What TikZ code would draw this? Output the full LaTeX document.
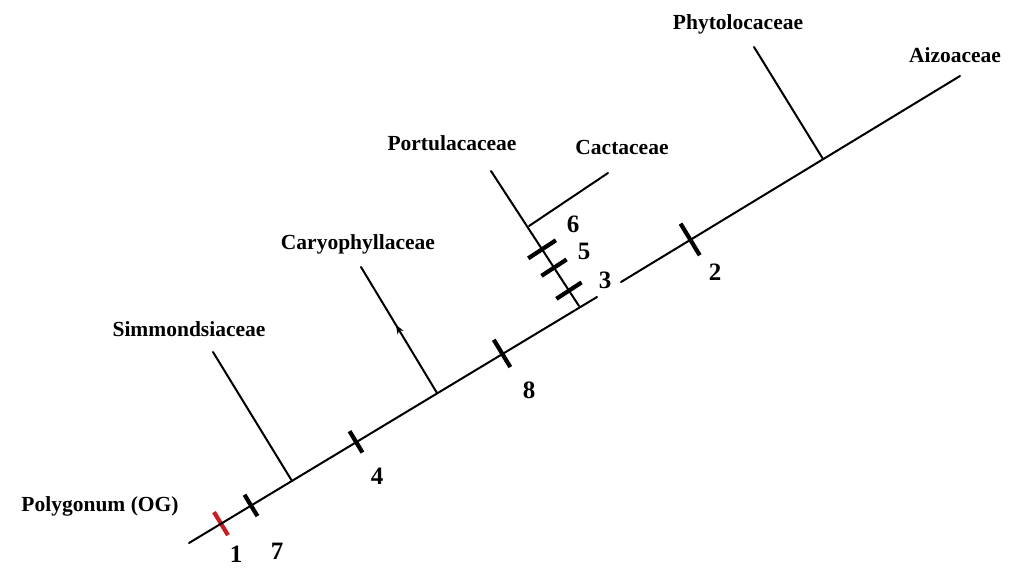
\documentclass[tikz,border=0pt]{standalone}
\usepackage{fontspec}
\setmainfont{Liberation Serif}
\usetikzlibrary{arrows.meta,decorations.markings}
\definecolor{tickred}{RGB}{200,30,35}
\begin{document}
\begin{tikzpicture}[x=1pt,y=-1pt,
  branch/.style={line width=2pt, black, line cap=round},
  tickmark/.style={fill=black, draw=none, inner sep=0pt, minimum width=4.2pt, minimum height=#1, sloped},
  taxon/.style={font=\bfseries\fontsize{21.5}{25}\selectfont, inner sep=0pt},
  num/.style={font=\bfseries\fontsize{25}{29}\selectfont, inner sep=0pt}]
\useasboundingbox (0,0) rectangle (1024,568);
% coordinates of the tree
\coordinate (root) at (189,543);
\coordinate (tip) at (960,76);
\coordinate (gapA) at (597,297);
\coordinate (gapB) at (621,282);
\coordinate (jSim) at (292,481);
\coordinate (simTop) at (213,352);
\coordinate (jCar) at (437,393);
\coordinate (carTop) at (361,267);
\coordinate (jPor) at (579,306);
\coordinate (porTop) at (491,171);
\coordinate (jCac) at (529,226);
\coordinate (cacTop) at (608,173);
\coordinate (jPhy) at (823,159);
\coordinate (phyTop) at (754,47);
% ticks on main line
\path (root) -- (tip)
  node[tickmark=27pt, pos=0.0415, fill=tickred] (t1) {}
  node[tickmark=25pt, pos=0.0804] (t7) {}
  node[tickmark=25pt, pos=0.2166] (t4) {}
  node[tickmark=32pt, pos=0.406] (t8) {}
  node[tickmark=37pt, pos=0.650] (t2) {};
% ticks on Portulacaceae branch
\path (jPor) -- (porTop)
  node[tickmark=30pt, pos=0.114] (t3) {}
  node[tickmark=30pt, pos=0.284] (t5) {}
  node[tickmark=33pt, pos=0.42] (t6) {};
% branches
\draw[branch] (root) -- (gapA);
\draw[branch] (gapB) -- (tip);
\draw[branch] (jSim) -- (simTop);
\draw[branch, postaction={decorate}, decoration={markings, mark=at position 0.54 with {\arrow{Stealth[length=9pt,width=7pt]}}}] (jCar) -- (carTop);
\draw[branch] (jPor) -- (porTop);
\draw[branch] (jCac) -- (cacTop);
\draw[branch] (jPhy) -- (phyTop);
% taxon labels
\node[taxon] (polyg) at (100,506) {Polygonum (OG)};
\node[taxon] (simm) at (189,329) {Simmondsiaceae};
\node[taxon] (cary) at (358,244) {Caryophyllaceae};
\node[taxon] (portu) at (452,143) {Portulacaceae};
\node[taxon] (cact) at (622,147) {Cactaceae};
\node[taxon] (phyto) at (738,24) {Phytolocaceae};
\node[taxon] (aizo) at (955,55) {Aizoaceae};
% character numbers
\node[num] (n1) at (236,554) {1};
\node[num] (n7) at (277,551) {7};
\node[num] (n4) at (377,476) {4};
\node[num] (n8) at (529,390) {8};
\node[num] (n3) at (605,280) {3};
\node[num] (n5) at (584,251) {5};
\node[num] (n6) at (573,224) {6};
\node[num] (n2) at (715,272) {2};
\end{tikzpicture}
\end{document}
